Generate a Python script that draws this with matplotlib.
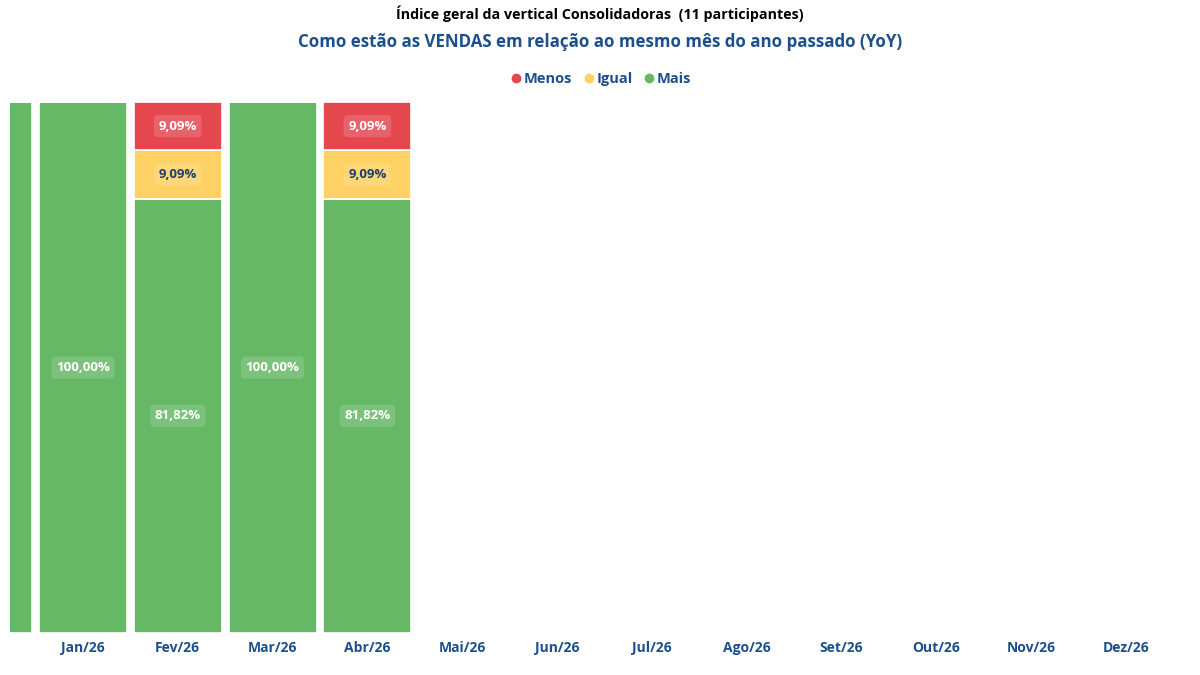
import matplotlib.pyplot as plt
from matplotlib.lines import Line2D
import numpy as np

# months of 2026 plus the previous bar that is cut off at the left edge
months = ["Dez/25", "Jan/26", "Fev/26", "Mar/26", "Abr/26", "Mai/26", "Jun/26",
          "Jul/26", "Ago/26", "Set/26", "Out/26", "Nov/26", "Dez/26"]
menos = [0, 0, 9.09, 0, 9.09, 0, 0, 0, 0, 0, 0, 0, 0]
igual = [0, 0, 9.09, 0, 9.09, 0, 0, 0, 0, 0, 0, 0, 0]
mais = [100, 100, 81.82, 100, 81.82, 0, 0, 0, 0, 0, 0, 0, 0]

series = [("Mais", mais, "#66b866", "white"),
          ("Igual", igual, "#fdd163", "#1f3f6e"),
          ("Menos", menos, "#e5474f", "white")]

plt.rcParams['font.family'] = ['Open Sans', 'DejaVu Sans']
blue = "#1c4f8c"

fig = plt.figure(figsize=(12, 6.75), dpi=100)
ax = fig.add_axes([10 / 1200, 42 / 675, 1165 / 1200, 531 / 675])

x = np.arange(len(months)) - 1
bottom = np.zeros(len(months))
for name, vals, color, tcol in series:
    vals = np.array(vals, dtype=float)
    ax.bar(x, vals, 0.93, bottom=bottom, color=color,
           edgecolor="white", linewidth=1.2, label=name)
    for xi, b, v in zip(x, bottom, vals):
        if v > 0 and xi >= 0:
            txt = f"{v:.2f}".replace(".", ",") + "%"
            ax.text(xi, b + v / 2, txt, ha="center", va="center", color=tcol,
                    fontsize=9.5, fontweight="bold",
                    bbox=dict(boxstyle="round,pad=0.35", fc="white",
                              ec="none", alpha=0.15))
    bottom += vals

ax.set_xticks(x[1:])
ax.set_xticklabels(months[1:], fontsize=10, fontweight="bold", color=blue)
ax.set_xlim((10 - 83) / 94.8, (1175 - 83) / 94.8)
ax.set_ylim(0, 100)
ax.tick_params(axis="x", length=0, pad=6)
ax.set_yticks([])
for s in ax.spines.values():
    s.set_visible(False)

fig.text(0.5, 1 - 14 / 675, "Índice geral da vertical Consolidadoras  (11 participantes)",
         ha="center", va="center", fontsize=10.3, fontweight="bold", color="black")
fig.text(0.5, 1 - 42 / 675, "Como estão as VENDAS em relação ao mesmo mês do ano passado (YoY)",
         ha="center", va="center", fontsize=12.2, fontweight="bold", color=blue)

legend_items = [("Menos", "#e5474f"), ("Igual", "#fdd163"), ("Mais", "#66b866")]
lh = [Line2D([], [], marker="o", linestyle="", markersize=6, color=c) for _, c in legend_items]
leg = fig.legend(lh, [n for n, _ in legend_items], loc="center", ncol=3,
                 bbox_to_anchor=(0.5, 1 - 79 / 675), frameon=False,
                 handletextpad=0.05, columnspacing=0.6, handlelength=1.0,
                 prop={"weight": "bold", "size": 10.5})
for t in leg.get_texts():
    t.set_color(blue)

plt.savefig("out.png", dpi=100)
